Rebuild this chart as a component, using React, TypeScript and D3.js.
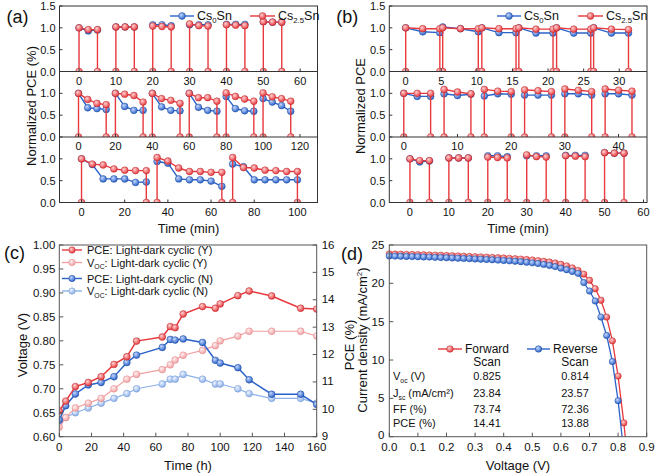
import * as d3 from "d3";

const RED = "#e8383d";
const BLUE = "#2b62c8";
const LRED = "#f2a1a3";
const LBLUE = "#8cb0ea";
const FONT = "'Liberation Sans', Arial, sans-serif";

// (a) top & (b) bottom: 5 min light cycles
const cyc5Time = [[0, 2.5, 5], [10, 12.5, 15], [20, 22.5, 25], [30, 32.5, 35], [40, 42.5, 45], [50, 52.5, 55]];
const cyc5Cs0 = [[1.0, 0.93, 0.95], [1.02, 1.02, 1.02], [1.07, 1.07, 1.05], [1.07, 1.07, 1.07], [1.08, 1.08, 1.08], [1.14, 1.13, 1.13]];
const cyc5Cs25 = [[1.0, 0.96, 0.96], [1.02, 1.02, 1.02], [1.04, 1.03, 1.02], [1.09, 1.05, 1.04], [1.07, 1.06, 1.05], [1.14, 1.13, 1.13]];

// (a) middle: 15 min cycles
const cyc15Time = [[0, 5, 10, 15], [20, 25, 30, 35], [40, 45, 50, 55], [60, 65, 70, 75], [80, 85, 90, 95], [100, 105, 110, 115]];
const cyc15Cs0 = [[1.0, 0.67, 0.65, 0.63], [1.0, 0.7, 0.61, 0.61], [1.0, 0.69, 0.61, 0.6], [1.0, 0.68, 0.61, 0.59], [0.93, 0.65, 0.6, 0.59], [0.88, 0.8, 0.72, 0.59]];
const cyc15Cs25 = [[1.0, 0.86, 0.77, 0.74], [1.0, 0.98, 0.95, 0.8], [1.0, 0.88, 0.84, 0.77], [1.0, 0.9, 0.9, 0.82], [1.01, 0.93, 0.87, 0.82], [1.01, 0.92, 0.88, 0.82]];

// (a) bottom: 30 min cycles
const cyc30Time = [[0, 5, 10, 15, 20, 25, 30], [35, 40, 45, 50, 55, 60, 65], [70, 75, 80, 85, 90, 95, 100]];
const cyc30Cs0 = [[1.0, 0.87, 0.54, 0.54, 0.54, 0.46, 0.47], [0.94, 0.9, 0.54, 0.52, 0.52, 0.49, 0.37], [0.88, 0.82, 0.52, 0.52, 0.52, 0.52, 0.52]];
const cyc30Cs25 = [[1.0, 0.88, 0.86, 0.77, 0.74, 0.73, 0.73], [1.03, 0.95, 0.79, 0.71, 0.71, 0.69, 0.69], [1.03, 0.8, 0.79, 0.74, 0.73, 0.71, 0.71]];

// (b) top: short dark intervals
const cycShortTime = [[0, 2.4, 4.8], [5.2, 7.7, 10.2], [10.7, 13.1, 15.5], [15.9, 18.3, 20.7], [21.2, 23.6, 26.0], [26.4, 28.9, 31.3]];
const cycShortCs0 = [[1.0, 0.91, 0.89], [1.02, 0.98, 0.91], [1.0, 0.89, 0.89], [1.0, 0.88, 0.88], [1.0, 0.88, 0.88], [1.0, 0.88, 0.88]];
const cycShortCs25 = [[1.0, 0.98, 0.98], [1.0, 0.98, 0.98], [1.0, 0.98, 0.98], [1.0, 0.97, 0.97], [1.0, 0.97, 0.97], [1.0, 0.97, 0.96]];

// (b) middle: 2.5 min dark intervals
const cycMidTime = [[0, 2.5, 5], [7.5, 10, 12.5], [15, 17.5, 20], [22.5, 25, 27.5], [30, 32.5, 35], [37.5, 40, 42.5]];
const cycMidCs0 = [[1.0, 0.93, 0.93], [0.99, 0.95, 0.98], [0.94, 0.99, 0.98], [0.96, 0.96, 0.96], [0.99, 0.99, 0.96], [0.99, 0.99, 0.96]];
const cycMidCs25 = [[1.0, 1.0, 1.0], [1.09, 1.03, 0.99], [1.09, 1.05, 1.04], [1.08, 1.06, 1.04], [1.1, 1.07, 1.04], [1.1, 1.07, 1.05]];

// (c) long-term stability
const cTime = [0, 4, 10, 18, 26, 34, 42, 48, 64, 69, 72, 77, 89, 97, 100, 111, 118, 132, 150, 160];
const cPceY = [9.94, 10.3, 10.83, 10.98, 11.19, 11.64, 11.92, 12.49, 12.64, 13.02, 12.98, 13.48, 13.75, 13.69, 13.85, 14.15, 14.32, 14.14, 13.69, 13.66];
const cVocY = [0.62, 0.64, 0.66, 0.67, 0.68, 0.7, 0.72, 0.73, 0.74, 0.75, 0.76, 0.77, 0.78, 0.79, 0.8, 0.81, 0.82, 0.82, 0.82, 0.81];
const cPceN = [9.61, 10.13, 10.56, 10.89, 10.98, 11.19, 11.71, 11.98, 12.26, 12.55, 12.53, 12.57, 12.44, 11.79, 11.69, 11.52, 11.08, 10.55, 10.55, 10.18];
const cVocN = [0.63, 0.64, 0.65, 0.66, 0.67, 0.68, 0.69, 0.7, 0.71, 0.72, 0.72, 0.73, 0.72, 0.71, 0.71, 0.7, 0.69, 0.68, 0.68, 0.67];

// (d) J-V curves
const jvV = [0, 0.02, 0.04, 0.06, 0.08, 0.1, 0.12, 0.14, 0.16, 0.18, 0.2, 0.22, 0.24, 0.26, 0.28, 0.3, 0.32, 0.34, 0.36, 0.38, 0.4, 0.42, 0.44, 0.46, 0.48, 0.5, 0.52, 0.54, 0.56, 0.58, 0.6, 0.62, 0.64, 0.66, 0.68, 0.7, 0.72, 0.74, 0.76, 0.78, 0.8, 0.82];
const jvFwd = [23.84, 23.82, 23.8, 23.78, 23.76, 23.74, 23.72, 23.7, 23.68, 23.66, 23.63, 23.6, 23.57, 23.54, 23.51, 23.48, 23.45, 23.42, 23.38, 23.34, 23.3, 23.26, 23.21, 23.16, 23.1, 23.04, 22.96, 22.88, 22.78, 22.65, 22.48, 22.28, 22.02, 21.68, 21.2, 20.4, 19.3, 17.8, 15.6, 12.5, 7.9, 1.8];
const jvRev = [23.57, 23.55, 23.53, 23.51, 23.49, 23.47, 23.44, 23.42, 23.39, 23.37, 23.34, 23.31, 23.28, 23.25, 23.22, 23.18, 23.15, 23.11, 23.07, 23.03, 22.98, 22.93, 22.88, 22.82, 22.75, 22.67, 22.58, 22.47, 22.34, 22.18, 21.98, 21.78, 21.55, 21.3, 20.1, 19.0, 17.7, 15.6, 13.2, 9.8, 4.7];
const vocFwd = 0.825;
const vocRev = 0.814;
const tableRows = ["V_oc (V)", "J_sc (mA/cm²)", "FF (%)", "PCE (%)"];
const tableFwd = ["0.825", "23.84", "73.74", "14.41"];
const tableRev = ["0.814", "23.57", "72.36", "13.88"];

function Grad({ id, color, light }: { id: string; color: string; light: string }) {
  return (
    <radialGradient id={id} cx="38%" cy="35%" r="65%">
      <stop offset="0%" stopColor={light} />
      <stop offset="100%" stopColor={color} />
    </radialGradient>
  );
}

function Ball({ x, y, r, g, s }: any) {
  return <circle cx={x} cy={y} r={r} fill={`url(#${g})`} stroke={s} strokeWidth={0.5} />;
}

function CycSub({ x0, x1, y0, y1, xDomain, xTicks, times, blue, red, showTop, cid }: any) {
  const xs = d3.scaleLinear().domain(xDomain).range([x0, x1]);
  const ys = d3.scaleLinear().domain([0, 1.5]).range([y1, y0]);
  const line = d3.line<number[]>().x((d) => xs(d[0])).y((d) => ys(d[1]));
  const yTicks = showTop ? [0, 0.5, 1.0, 1.5] : [0, 0.5, 1.0];
  const bluePts = times.map((ts: number[], i: number) => ts.map((t, j) => [t, blue[i][j]]));
  const redPts = times.map((ts: number[], i: number) => [[ts[0], 0], ...ts.map((t, j) => [t, red[i][j]]), [ts[ts.length - 1], 0]]);
  return (
    <g>
      <clipPath id={cid}>
        <rect x={x0} y={y0} width={x1 - x0} height={y1 - y0} />
      </clipPath>
      <g clipPath={`url(#${cid})`}>
        {bluePts.map((p: number[][], i: number) => (
          <g key={"b" + i}>
            <path d={line(p) || ""} fill="none" stroke={BLUE} strokeWidth={1.4} />
            {p.map((d, j) => <Ball key={j} x={xs(d[0])} y={ys(d[1])} r={3.4} g="gBlue" s="#1d4a9e" />)}
          </g>
        ))}
        {redPts.map((p: number[][], i: number) => (
          <g key={"r" + i}>
            <path d={line(p) || ""} fill="none" stroke={RED} strokeWidth={1.4} />
            {p.map((d, j) => <Ball key={j} x={xs(d[0])} y={ys(d[1])} r={3.4} g="gRed" s="#b8282c" />)}
          </g>
        ))}
      </g>
      <line x1={x0} x2={x1} y1={y1} y2={y1} stroke="#333" strokeWidth={1} />
      {xTicks.map((t: number) => (
        <g key={t}>
          <line x1={xs(t)} x2={xs(t)} y1={y1} y2={y1 - 3} stroke="#333" />
          <text x={xs(t)} y={y1 + 13} fontSize={11} textAnchor="middle" fill="#111">{t}</text>
        </g>
      ))}
      {yTicks.map((t) => (
        <g key={t}>
          <line x1={x0} x2={x0 + 3} y1={ys(t)} y2={ys(t)} stroke="#333" />
          <text x={x0 - 4} y={ys(t) + 4} fontSize={11} textAnchor="end" fill="#111">{t.toFixed(1)}</text>
        </g>
      ))}
    </g>
  );
}

function SubLabel({ x, y, base, sub, rest, size = 11, anchor = "start" }: any) {
  return (
    <text x={x} y={y} fontSize={size} textAnchor={anchor} fill="#111">
      {base}
      <tspan fontSize={size * 0.62} dy={size * 0.25}>{sub}</tspan>
      <tspan dy={-size * 0.25}>{rest}</tspan>
    </text>
  );
}

function LegendItem({ x1, x2, y, color, g, s, r = 3.4, w = 1.4 }: any) {
  return (
    <g>
      <line x1={x1} x2={x2} y1={y} y2={y} stroke={color} strokeWidth={w} />
      <Ball x={(x1 + x2) / 2} y={y} r={r} g={g} s={s} />
    </g>
  );
}

function CycPanel({ left, right, subs, label, yTitle, id, legX }: any) {
  const top = 6;
  const h = 65.5;
  return (
    <g>
      {subs.map((s: any, i: number) => (
        <CycSub key={i} cid={id + i} x0={left} x1={right} y0={top + i * h} y1={top + (i + 1) * h} showTop={i === 0} {...s} />
      ))}
      <rect x={left} y={top} width={right - left} height={3 * h} fill="none" stroke="#333" strokeWidth={1} />
      <LegendItem x1={legX[0]} x2={legX[0] + 24} y={16} color={BLUE} g="gBlue" s="#1d4a9e" />
      <SubLabel x={legX[0] + 27} y={20} base="Cs" sub="0" rest="Sn" size={12.5} />
      <LegendItem x1={legX[1]} x2={legX[1] + 25} y={16} color={RED} g="gRed" s="#b8282c" />
      <SubLabel x={legX[1] + 28} y={20} base="Cs" sub="2.5" rest="Sn" size={12.5} />
      <text x={(left + right) / 2} y={233} fontSize={13} textAnchor="middle" fill="#111">Time (min)</text>
      <text transform={`translate(${left - 24},106) rotate(-90)`} fontSize={13} textAnchor="middle" fill="#111">{yTitle}</text>
      <text x={left - 53} y={23} fontSize={18} fill="#111">{label}</text>
    </g>
  );
}

function PanelC() {
  const x0 = 59.3, x1 = 316.7, y0 = 245, y1 = 436.7;
  const xs = d3.scaleLinear().domain([0, 160]).range([x0, x1]);
  const yl = d3.scaleLinear().domain([0.6, 1.0]).range([y1, y0]);
  const yr = d3.scaleLinear().domain([9, 16]).range([y1, y0]);
  const mk = (vals: number[], sc: any) => cTime.map((t, i) => [xs(t), sc(vals[i])]);
  const line = d3.line<number[]>().x((d) => d[0]).y((d) => d[1]);
  const series = [
    { pts: mk(cVocN, yl), c: LBLUE, g: "gLBlue", s: "#7096d0", w: 1.2 },
    { pts: mk(cVocY, yl), c: LRED, g: "gLRed", s: "#e08587", w: 1.2 },
    { pts: mk(cPceN, yr), c: BLUE, g: "gBlue", s: "#1d4a9e", w: 1.5 },
    { pts: mk(cPceY, yr), c: RED, g: "gRed", s: "#b8282c", w: 1.5 },
  ];
  const legend = [
    { y: 250, c: RED, g: "gRed", s: "#b8282c", base: "PCE: Light-dark cyclic (Y)" },
    { y: 262.5, c: LRED, g: "gLRed", s: "#e08587", base: "V", sub: "OC", rest: ": Light-dark cyclic (Y)" },
    { y: 278.5, c: BLUE, g: "gBlue", s: "#1d4a9e", base: "PCE: Light-dark cyclic (N)" },
    { y: 291, c: LBLUE, g: "gLBlue", s: "#7096d0", base: "V", sub: "OC", rest: ": Light-dark cyclic (N)" },
  ];
  return (
    <g>
      <clipPath id="clipC">
        <rect x={x0} y={y0} width={x1 - x0} height={y1 - y0} />
      </clipPath>
      <g clipPath="url(#clipC)">
        {series.map((s, i) => (
          <g key={i}>
            <path d={line(s.pts) || ""} fill="none" stroke={s.c} strokeWidth={s.w} />
            {s.pts.map((p, j) => <Ball key={j} x={p[0]} y={p[1]} r={3.4} g={s.g} s={s.s} />)}
          </g>
        ))}
      </g>
      <rect x={x0} y={y0} width={x1 - x0} height={y1 - y0} fill="none" stroke="#555" strokeWidth={1} />
      {d3.range(0, 161, 20).map((t) => (
        <g key={t}>
          <line x1={xs(t)} x2={xs(t)} y1={y1} y2={y1 - 4} stroke="#555" />
          <text x={xs(t)} y={y1 + 14.5} fontSize={11.5} textAnchor="middle" fill="#111">{t}</text>
        </g>
      ))}
      {d3.range(0, 9).map((i) => {
        const v = 0.6 + i * 0.05;
        return (
          <g key={i}>
            <line x1={x0} x2={x0 + 4} y1={yl(v)} y2={yl(v)} stroke="#555" />
            <text x={x0 - 4} y={yl(v) + 4} fontSize={11.5} textAnchor="end" fill="#111">{v.toFixed(2)}</text>
          </g>
        );
      })}
      {d3.range(9, 17).map((v) => (
        <g key={v}>
          <line x1={x1} x2={x1 - 4} y1={yr(v)} y2={yr(v)} stroke="#555" />
          <text x={x1 + 5} y={yr(v) + 3.5} fontSize={11.5} textAnchor="start" fill="#111">{v}</text>
        </g>
      ))}
      {legend.map((l, i) => (
        <g key={i}>
          <LegendItem x1={62} x2={82} y={l.y} color={l.c} g={l.g} s={l.s} r={3.2} />
          {l.sub ? (
            <SubLabel x={87} y={l.y + 4} base={l.base} sub={l.sub} rest={l.rest} size={11} />
          ) : (
            <text x={87} y={l.y + 4} fontSize={11} fill="#111">{l.base}</text>
          )}
        </g>
      ))}
      <text x={(x0 + x1) / 2} y={470} fontSize={13} textAnchor="middle" fill="#111">Time (h)</text>
      <text transform={`translate(27,345) rotate(-90)`} fontSize={13} textAnchor="middle" fill="#111">Voltage (V)</text>
      <text transform={`translate(354,345) rotate(-90)`} fontSize={13} textAnchor="middle" fill="#111">PCE (%)</text>
      <text x={4} y={259} fontSize={18} fill="#111">(c)</text>
    </g>
  );
}

function PanelD() {
  const x0 = 389.3, x1 = 646.7, y0 = 245, y1 = 436.7;
  const xs = d3.scaleLinear().domain([0, 0.9]).range([x0, x1]);
  const ys = d3.scaleLinear().domain([0, 25]).range([y1, y0]);
  const line = d3.line<number[]>().x((d) => xs(d[0])).y((d) => ys(d[1]));
  const fwd = jvFwd.map((j, i) => [jvV[i], j]);
  const rev = jvRev.map((j, i) => [jvV[i], j]);
  const rowY = [380, 397, 413, 427];
  return (
    <g>
      <path d={line([...fwd, [vocFwd, 0]]) || ""} fill="none" stroke={RED} strokeWidth={1.3} />
      {fwd.map((p, i) => <Ball key={i} x={xs(p[0])} y={ys(p[1])} r={3.2} g="gRed" s="#b8282c" />)}
      <path d={line([...rev, [vocRev, 0]]) || ""} fill="none" stroke={BLUE} strokeWidth={1.3} />
      {rev.map((p, i) => <Ball key={i} x={xs(p[0])} y={ys(p[1])} r={3.2} g="gBlue" s="#1d4a9e" />)}
      <rect x={x0} y={y0} width={x1 - x0} height={y1 - y0} fill="none" stroke="#555" strokeWidth={1} />
      {d3.range(0, 10).map((i) => {
        const v = i / 10;
        return (
          <g key={i}>
            <line x1={xs(v)} x2={xs(v)} y1={y1} y2={y1 - 4} stroke="#555" />
            <text x={xs(v)} y={y1 + 14} fontSize={11.5} textAnchor="middle" fill="#111">{v.toFixed(1)}</text>
          </g>
        );
      })}
      {d3.range(0, 26, 5).map((v) => (
        <g key={v}>
          <line x1={x0} x2={x0 + 4} y1={ys(v)} y2={ys(v)} stroke="#555" />
          <text x={x0 - 5} y={ys(v) + (v === 0 ? 2.5 : 4)} fontSize={11.5} textAnchor="end" fill="#111">{v}</text>
        </g>
      ))}
      <LegendItem x1={438} x2={462} y={349} color={RED} g="gRed" s="#b8282c" r={3.3} />
      <text x={465} y={353} fontSize={12} fill="#111">Forward</text>
      <LegendItem x1={527} x2={550} y={349} color={BLUE} g="gBlue" s="#1d4a9e" r={3.3} />
      <text x={553} y={353} fontSize={12} fill="#111">Reverse</text>
      <text x={487} y={366} fontSize={12} textAnchor="middle" fill="#111">Scan</text>
      <text x={575} y={366} fontSize={12} textAnchor="middle" fill="#111">Scan</text>
      {tableRows.map((r, i) => {
        const [head, tail] = r.split(" ");
        const parts = head.split("_");
        return (
          <g key={i}>
            {parts.length > 1 ? (
              <SubLabel x={393} y={rowY[i]} base={parts[0]} sub={parts[1]} rest={" " + tail} size={11} />
            ) : (
              <text x={393} y={rowY[i]} fontSize={11} fill="#111">{r}</text>
            )}
            <text x={487} y={rowY[i]} fontSize={11} textAnchor="middle" fill="#111">{tableFwd[i]}</text>
            <text x={575} y={rowY[i]} fontSize={11} textAnchor="middle" fill="#111">{tableRev[i]}</text>
          </g>
        );
      })}
      <text x={(x0 + x1) / 2} y={470} fontSize={13} textAnchor="middle" fill="#111">Voltage (V)</text>
      <text transform={`translate(367,340) rotate(-90)`} fontSize={13} textAnchor="middle" fill="#111">
        Current density (mA/cm<tspan fontSize={8} dy={-5}>2</tspan><tspan dy={5}>)</tspan>
      </text>
      <text x={341} y={260} fontSize={18} fill="#111">(d)</text>
    </g>
  );
}

export default function App() {
  const subsA = [
    { xDomain: [-5.3, 64.7], xTicks: [0, 10, 20, 30, 40, 50, 60], times: cyc5Time, blue: cyc5Cs0, red: cyc5Cs25 },
    { xDomain: [-10.3, 129.5], xTicks: [0, 20, 40, 60, 80, 100, 120], times: cyc15Time, blue: cyc15Cs0, red: cyc15Cs25 },
    { xDomain: [-10.2, 109.3], xTicks: [0, 20, 40, 60, 80, 100], times: cyc30Time, blue: cyc30Cs0, red: cyc30Cs25 },
  ];
  const subsB = [
    { xDomain: [-2.3, 33.9], xTicks: [0, 5, 10, 15, 20, 25, 30], times: cycShortTime, blue: cycShortCs0, red: cycShortCs25 },
    { xDomain: [-2.7, 45.3], xTicks: [0, 10, 20, 30, 40], times: cycMidTime, blue: cycMidCs0, red: cycMidCs25 },
    { xDomain: [-5.3, 60.9], xTicks: [0, 10, 20, 30, 40, 50, 60], times: cyc5Time, blue: cyc5Cs0, red: cyc5Cs25 },
  ];
  return (
    <svg width={660} height={475} fontFamily={FONT} style={{ position: "absolute", left: 0, top: 0, background: "#fff" }}>
      <defs>
        <Grad id="gRed" color={RED} light="#ffd2d2" />
        <Grad id="gBlue" color={BLUE} light="#c4d8ff" />
        <Grad id="gLRed" color={LRED} light="#fff0f0" />
        <Grad id="gLBlue" color={LBLUE} light="#eef4ff" />
      </defs>
      <CycPanel left={59.5} right={317.5} subs={subsA} label="(a)" yTitle="Normalized PCE (%)" id="ca" legX={[170, 250]} />
      <CycPanel left={389.3} right={647} subs={subsB} label="(b)" yTitle="Normalized PCE" id="cb" legX={[497, 578]} />
      <PanelC />
      <PanelD />
    </svg>
  );
}
